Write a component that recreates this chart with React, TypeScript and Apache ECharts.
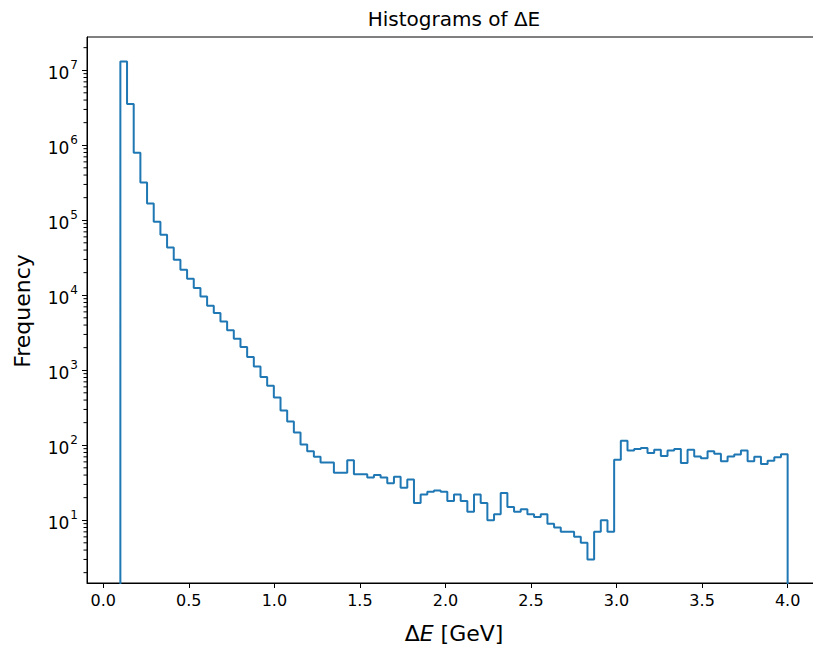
import React, { useEffect, useRef } from 'react';
import * as echarts from 'echarts';

// Histogram of ΔE: 100 equal bins from 0.1 to 4.0 GeV
const BIN_MIN = 0.1;
const BIN_MAX = 4.0;
const COUNTS = [
  13100000, 3540000, 794000, 319000, 167000, 95500, 64100, 43400, 29700, 21900,
  16600, 12500, 9640, 7240, 5790, 4480, 3400, 2630, 2040, 1500,
  1120, 811, 621, 434, 291, 207, 148, 102, 83, 70,
  59, 59, 43, 43, 63, 41, 41, 37, 40, 37,
  31, 38, 27, 35, 17, 22, 24, 25, 24, 18,
  22, 18, 13, 22, 17, 10, 12, 23, 15, 13,
  14, 12, 11, 12, 9, 8, 7, 7, 6, 5,
  3, 7, 10, 7, 64, 115, 85, 89, 92, 79,
  87, 72, 85, 89, 58, 87, 71, 67, 83, 77,
  61, 71, 75, 85, 61, 70, 56, 62, 69, 76,
];
const X_TICKS = [0, 0.5, 1, 1.5, 2, 2.5, 3, 3.5, 4];
const X_TICK_LABELS = ['0.0', '0.5', '1.0', '1.5', '2.0', '2.5', '3.0', '3.5', '4.0'];
const Y_EXPONENTS = [1, 2, 3, 4, 5, 6, 7];
const MINOR_MULTIPLIERS = [2, 3, 4, 5, 6, 7, 8, 9];
const TITLE = 'Histograms of ΔE';
const Y_NAME = 'Frequency';

const FONT = '"DejaVu Sans", sans-serif';
const LOG_MIN = 0.163;
const LOG_MAX = 7.443;
const X_MIN = -0.095;
const X_MAX = 4.195;

export default function App() {
  const ref = useRef<HTMLDivElement>(null);
  useEffect(() => {
    if (!ref.current) return;
    const chart = echarts.init(ref.current, undefined, { renderer: 'svg' });
    const n = COUNTS.length;
    const w = (BIN_MAX - BIN_MIN) / n;
    const pts: number[][] = [];
    const below = -1;
    pts.push([BIN_MIN, below]);
    for (let i = 0; i < n; i++) {
      const ly = Math.log10(COUNTS[i]);
      pts.push([BIN_MIN + i * w, ly]);
      pts.push([BIN_MIN + (i + 1) * w, ly]);
    }
    pts.push([BIN_MAX, below]);

    const minorVals: number[] = [];
    for (let e = 0; e <= 7; e++) {
      for (const k of MINOR_MULTIPLIERS) {
        const v = e + Math.log10(k);
        if (v > LOG_MIN && v < LOG_MAX) minorVals.push(v);
      }
    }

    const texts: any[] = [
      {
        id: 'title',
        type: 'text',
        x: 454,
        y: 19,
        style: { text: TITLE, fontFamily: FONT, fontSize: 20, fill: '#000', textAlign: 'center', textVerticalAlign: 'middle' },
      },
      {
        id: 'xname',
        type: 'text',
        x: 454,
        y: 633,
        style: {
          text: '{n|Δ}{i|E}{n| [GeV]}',
          textAlign: 'center',
          textVerticalAlign: 'middle',
          rich: {
            n: { fontFamily: FONT, fontSize: 22, fill: '#000' },
            i: { fontFamily: FONT, fontSize: 22, fontStyle: 'italic', fill: '#000' },
          },
        },
      },
      {
        id: 'yname',
        type: 'text',
        x: 22,
        y: 311,
        rotation: Math.PI / 2,
        style: { text: Y_NAME, fontFamily: FONT, fontSize: 22, fill: '#000', textAlign: 'center', textVerticalAlign: 'middle' },
      },
    ];

    chart.setOption({
      animation: false,
      grid: { left: 87, right: -8, top: 37, bottom: 67, outerBoundsMode: 'none', show: true, borderColor: '#000', borderWidth: 1 },
      xAxis: {
        type: 'value',
        min: X_MIN,
        max: X_MAX,
        splitLine: { show: false },
        axisLine: { show: true, onZero: false, lineStyle: { color: '#000', width: 1 } },
        axisTick: { show: true, customValues: X_TICKS, length: 5, lineStyle: { color: '#000', width: 1 } },
        axisLabel: {
          customValues: X_TICKS,
          margin: 9,
          fontFamily: FONT,
          fontSize: 16,
          color: '#000',
          formatter: (v: number) => {
            const idx = X_TICKS.findIndex((t) => Math.abs(t - v) < 1e-6);
            return idx >= 0 ? X_TICK_LABELS[idx] : '';
          },
        },
      },
      yAxis: {
        type: 'value',
        min: LOG_MIN,
        max: LOG_MAX,
        position: 'left',
        splitLine: { show: false },
        axisLine: { show: true, onZero: false, lineStyle: { color: '#000', width: 1 } },
        axisTick: { show: true, customValues: Y_EXPONENTS, length: 5, lineStyle: { color: '#000', width: 1 } },
        axisLabel: {
          customValues: Y_EXPONENTS,
          margin: 9,
          color: '#000',
          formatter: (v: number) => `{b|10}{s|${Math.round(v)}}`,
          rich: {
            b: { fontFamily: FONT, fontSize: 17, color: '#000', lineHeight: 22, verticalAlign: 'bottom' },
            s: { fontFamily: FONT, fontSize: 12, color: '#000', lineHeight: 22, verticalAlign: 'top', padding: [0, 0, 0, 1] },
          },
        },
      },
      series: [
        {
          type: 'line',
          data: pts,
          showSymbol: false,
          symbol: 'none',
          clip: true,
          lineStyle: { color: '#1f77b4', width: 2 },
          itemStyle: { color: '#1f77b4' },
          z: 3,
        },
      ],
      graphic: texts,
    });

    // minor log ticks placed through the y axis scale
    const minorLines = minorVals.map((v, i) => {
      const p = chart.convertToPixel({ gridIndex: 0 }, [X_MIN, v]) as number[];
      return {
        id: 'minor' + i,
        type: 'line',
        shape: { x1: p[0] - 3.5, y1: p[1], x2: p[0], y2: p[1] },
        style: { stroke: '#000', lineWidth: 1 },
        silent: true,
        z: 10,
      };
    });
    chart.setOption({ graphic: [...texts, ...minorLines] });

    return () => chart.dispose();
  }, []);
  return <div ref={ref} style={{ position: 'absolute', left: 0, top: 0, width: 813, height: 650 }} />;
}
